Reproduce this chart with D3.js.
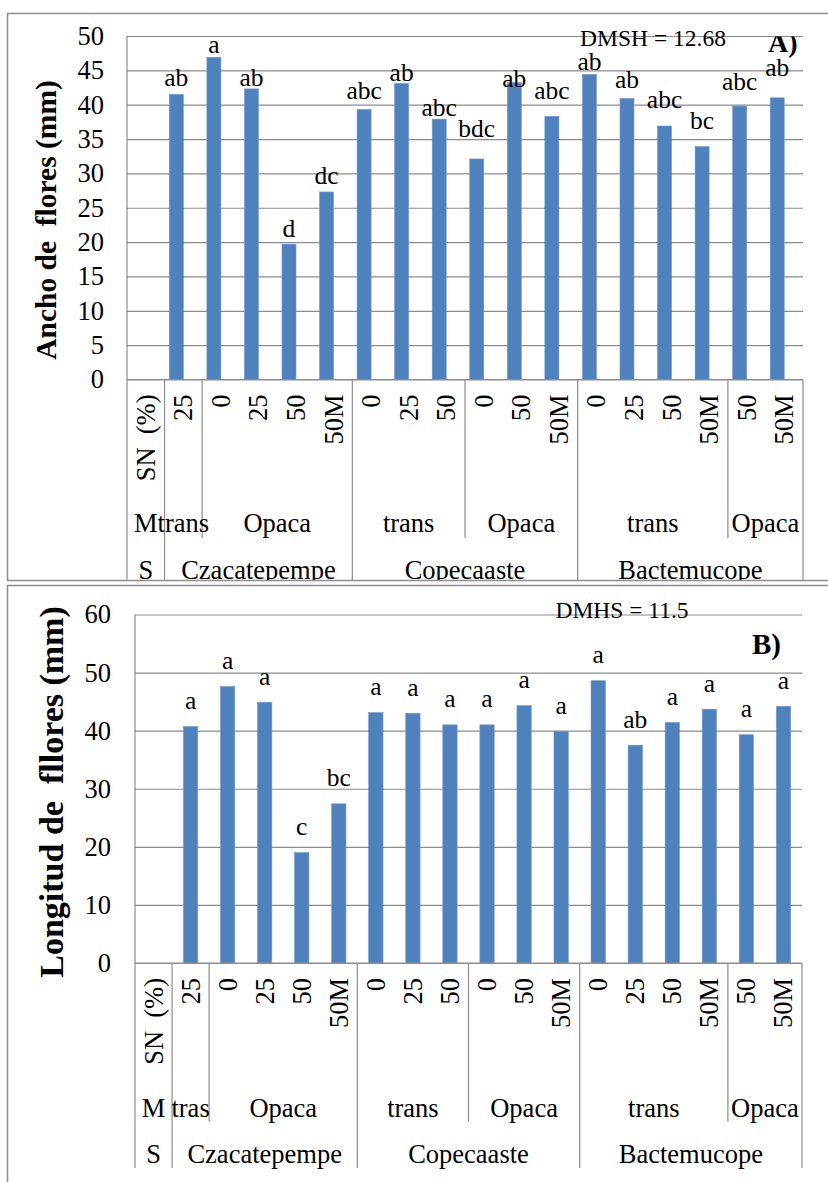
<!DOCTYPE html>
<html>
<head>
<meta charset="utf-8">
<script src="https://cdn.jsdelivr.net/npm/d3@7"></script>
<style>
  body { margin: 0; background: #fff; }
  svg { display: block; }
  text { font-family: "Liberation Serif", "Times New Roman", serif; fill: #000; white-space: pre; }
</style>
</head>
<body>
<svg id="chart" width="828" height="1182"></svg>
<script>
// Category hierarchy, innermost level first: shade (%), mesh colour, site
const shadeLabels = ["SN  (%)", "25", "0", "25", "50", "50M", "0", "25", "50", "0", "50", "50M", "0", "25", "50", "50M", "50", "50M"];
const meshGroupsA = [["M", 1], ["trans", 1], ["Opaca", 4], ["trans", 3], ["Opaca", 3], ["trans", 4], ["Opaca", 2]];
const meshGroupsB = [["M", 1], ["tras", 1], ["Opaca", 4], ["trans", 3], ["Opaca", 3], ["trans", 4], ["Opaca", 2]];
const siteGroups = [["S", 1], ["Czacatepempe", 5], ["Copecaaste", 6], ["Bactemucope", 6]];

// A) flower width (mm) and Tukey letters
const widthValues = [null, 41.5, 46.9, 42.3, 19.7, 27.3, 39.3, 43.1, 37.9, 32.1, 43.2, 38.3, 44.4, 40.9, 36.9, 33.9, 39.8, 41.0];
const widthLetters = [null, "ab", "a", "ab", "d", "dc", "abc", "ab", "abc", "bdc", "ab", "abc", "ab", "ab", "abc", "bc", "abc", "ab"];
const widthTicks = [0, 5, 10, 15, 20, 25, 30, 35, 40, 45, 50];

// B) flower length (mm) and Tukey letters
const lengthValues = [null, 40.7, 47.6, 44.9, 19.0, 27.4, 43.1, 43.0, 41.0, 41.0, 44.3, 39.9, 48.6, 37.5, 41.4, 43.7, 39.3, 44.2];
const lengthLetters = [null, "a", "a", "a", "c", "bc", "a", "a", "a", "a", "a", "a", "a", "ab", "a", "a", "a", "a"];
const lengthTicks = [0, 10, 20, 30, 40, 50, 60];

// Hand-placed letter heights above each bar in panel A (px)
const letterLiftA = [0, 8, 4.6, 3, 6.7, 7.7, 10.7, 2.3, 3.3, 22, -4, 17, 4, 11, 17.6, 17.7, 16, 21.7];

const svg = d3.select("#chart");
const GRID = "#8c8c8c";
const BAR = "#4f81bd";

svg.append("rect").attr("width", 828).attr("height", 1182).attr("fill", "#fff");

const defs = svg.append("defs");
defs.append("clipPath").attr("id", "clipA").append("rect")
  .attr("x", 0).attr("y", 13).attr("width", 828).attr("height", 567);
defs.append("clipPath").attr("id", "clipTagA").append("rect")
  .attr("x", 0).attr("y", 36.5).attr("width", 828).attr("height", 100);

function groupBounds(groups) {
  let s = 0;
  return groups.map(([label, span]) => {
    const b = { label, start: s, end: s + span };
    s += span;
    return b;
  });
}

function drawPanel(o) {
  const g = svg.append("g");
  if (o.clip) g.attr("clip-path", `url(#${o.clip})`);

  const x = d3.scaleBand().domain(d3.range(shadeLabels.length)).range([o.left, o.right]);
  const slot = d3.scaleBand().domain(o.series).range([0, x.bandwidth()]).paddingOuter(o.slotPad);
  const y = d3.scaleLinear().domain([0, o.yMax]).range([o.bottom, o.top]);
  const y0 = y(0);

  // horizontal gridlines
  const grid = g.append("g").attr("transform", `translate(${o.left},0)`)
    .call(d3.axisLeft(y).tickValues(o.ticks).tickSize(-(o.right - o.left)).tickFormat(""));
  grid.select(".domain").remove();
  grid.selectAll("line").attr("stroke", GRID).attr("stroke-width", 1.2);

  // value axis labels
  const ax = g.append("g").attr("transform", `translate(${o.left},0)`)
    .call(d3.axisLeft(y).tickValues(o.ticks).tickSize(0).tickPadding(o.tickPad));
  ax.attr("font-family", null).attr("font-size", null);
  ax.select(".domain").remove();
  ax.selectAll("text").attr("font-size", o.tickFont);

  // bars
  const rows = o.values.map((v, i) => ({ v, i, t: o.letters[i] })).filter(d => d.v != null);
  const bx = d => x(d.i) + slot(o.series[0]);
  g.selectAll("rect.bar").data(rows).join("rect")
    .attr("class", "bar")
    .attr("x", bx)
    .attr("width", slot.bandwidth())
    .attr("y", d => y(d.v))
    .attr("height", d => y0 - y(d.v))
    .attr("fill", BAR)
    .attr("stroke", "#6f97cc")
    .attr("stroke-width", 0.6);

  // significance letters
  g.selectAll("text.letter").data(rows).join("text")
    .attr("class", "letter")
    .attr("x", d => bx(d) + slot.bandwidth() / 2)
    .attr("y", d => y(d.v) - o.lift(d.i))
    .attr("text-anchor", "middle")
    .attr("font-size", o.letterFont)
    .text(d => d.t);

  // baseline
  g.append("line").attr("x1", o.left).attr("x2", o.right).attr("y1", y0).attr("y2", y0)
    .attr("stroke", GRID).attr("stroke-width", 1.2);

  // multi-level category axis: dividers
  const meshB = groupBounds(o.mesh);
  const siteB = groupBounds(siteGroups);
  const fullEdges = new Set([0, shadeLabels.length, ...siteB.map(b => b.start)]);
  const shortEdges = meshB.map(b => b.start).filter(e => !fullEdges.has(e));
  const edgeX = e => o.left + e * x.step();

  g.selectAll("line.full").data([...fullEdges]).join("line")
    .attr("x1", edgeX).attr("x2", edgeX)
    .attr("y1", e => (e === 0 ? o.top : y0)).attr("y2", y0 + o.fullDrop)
    .attr("stroke", GRID).attr("stroke-width", 1.2);
  g.selectAll("line.short").data(shortEdges).join("line")
    .attr("x1", edgeX).attr("x2", edgeX)
    .attr("y1", y0).attr("y2", y0 + o.shortDrop)
    .attr("stroke", GRID).attr("stroke-width", 1.2);

  // innermost labels, rotated
  g.selectAll("text.shade").data(shadeLabels).join("text")
    .attr("class", "shade")
    .attr("transform", (d, i) => `translate(${x(i) + x.bandwidth() / 2},${y0 + 15}) rotate(-90)`)
    .attr("text-anchor", "end")
    .attr("dominant-baseline", "central")
    .attr("font-size", o.catFont)
    .text(d => d);

  const groupText = (bounds, dy) => g.append("g").selectAll("text").data(bounds).join("text")
    .attr("x", b => (edgeX(b.start) + edgeX(b.end)) / 2)
    .attr("y", y0 + dy)
    .attr("text-anchor", "middle")
    .attr("font-size", o.catFont)
    .text(b => b.label);
  groupText(meshB, o.meshDy);
  groupText(siteB, o.siteDy);

  // axis title
  g.append("text")
    .attr("transform", `translate(${o.titleX},${o.titleY}) rotate(-90)`)
    .attr("text-anchor", "middle")
    .attr("dominant-baseline", "central")
    .attr("font-weight", "bold")
    .attr("font-size", o.titleFont)
    .text(o.title);

  // least significant difference note
  g.append("text")
    .attr("x", o.noteX).attr("y", o.noteY)
    .attr("text-anchor", "middle")
    .attr("font-size", 23.5)
    .text(o.note);

  const tag = g.append("text")
    .attr("x", o.tagX).attr("y", o.tagY)
    .attr("font-weight", "bold")
    .attr("font-size", o.tagFont)
    .text(o.tag);
  if (o.tagClip) tag.attr("clip-path", `url(#${o.tagClip})`);
}

// outer chart frames
svg.append("rect").attr("x", 7.5).attr("y", 13.5).attr("width", 900).attr("height", 567)
  .attr("fill", "none").attr("stroke", GRID).attr("stroke-width", 1.5);
svg.append("rect").attr("x", 7.5).attr("y", 585.5).attr("width", 900).attr("height", 700)
  .attr("fill", "none").attr("stroke", GRID).attr("stroke-width", 1.5);

drawPanel({
  clip: "clipA",
  left: 127, right: 803, top: 36, bottom: 379.5, yMax: 50,
  ticks: widthTicks, tickPad: 23, tickFont: 26.5,
  values: widthValues, letters: widthLetters,
  series: ["width", "spare"], slotPad: 0.34,
  lift: i => letterLiftA[i], letterFont: 25.5,
  mesh: meshGroupsA, shortDrop: 158.5, fullDrop: 201,
  meshDy: 152.5, siteDy: 199, catFont: 26.5,
  title: "Ancho de  flores (mm)", titleX: 46, titleY: 220, titleFont: 29.5,
  note: "DMSH = 12.68", noteX: 653, noteY: 46,
  tag: "A)", tagX: 768, tagY: 52, tagFont: 28, tagClip: "clipTagA"
});

drawPanel({
  left: 135, right: 802, top: 614.5, bottom: 963, yMax: 60,
  ticks: lengthTicks, tickPad: 24, tickFont: 26.5,
  values: lengthValues, letters: lengthLetters,
  series: ["length"], slotPad: 0.795,
  lift: () => 17.5, letterFont: 25.5,
  mesh: meshGroupsB, shortDrop: 158.5, fullDrop: 205,
  meshDy: 153.5, siteDy: 199.5, catFont: 26.5,
  title: "Longitud de  fllores (mm)", titleX: 51, titleY: 792, titleFont: 34,
  note: "DMHS = 11.5", noteX: 622, noteY: 618.3,
  tag: "B)", tagX: 752, tagY: 654, tagFont: 29
});
</script>
</body>
</html>
